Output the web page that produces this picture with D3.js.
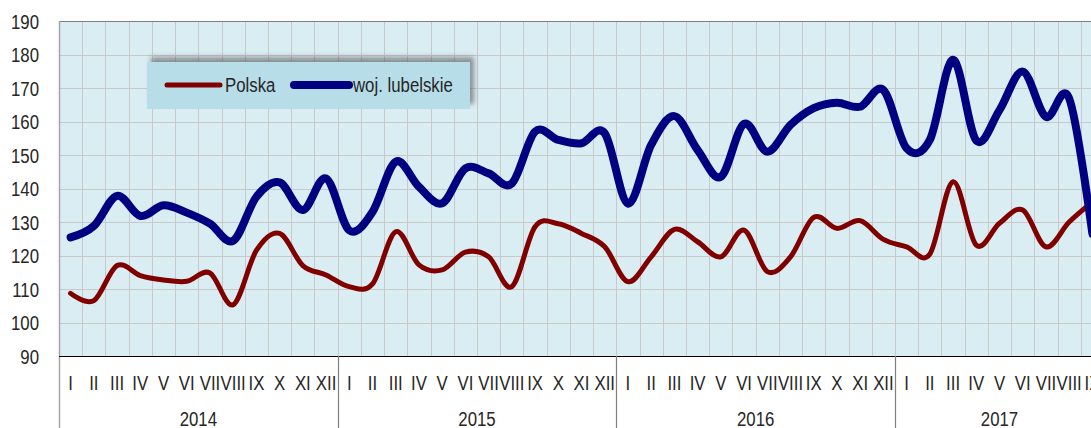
<!DOCTYPE html>
<html>
<head>
<meta charset="utf-8">
<script src="https://cdn.jsdelivr.net/npm/d3@7"></script>
<style>
  html, body { margin: 0; padding: 0; background: #fff; }
  svg { display: block; }
  text { font-family: "Liberation Sans", Arial, sans-serif; fill: #262626; }
</style>
</head>
<body>
<svg id="chart" width="1091" height="428"></svg>
<script>
const years = ["2014", "2015", "2016", "2017"];
const monthLabels = ["I","II","III","IV","V","VI","VII","VIII","IX","X","XI","XII"];
const monthsPerYear = [12, 12, 12, 9];
const yTicks = [90, 100, 110, 120, 130, 140, 150, 160, 170, 180, 190];
const seriesNames = ["Polska", "woj. lubelskie"];

const polska = [
  108.7, 106.5, 117.0, 114.0, 112.7, 112.3, 114.8, 105.3, 121.5, 126.6, 117.0, 114.2,
  110.7, 111.5, 127.1, 117.2, 115.7, 121.0, 119.6, 110.7, 128.6, 129.5, 126.6, 122.6,
  112.2, 119.6, 127.8, 124.1, 119.6, 127.6, 115.2, 119.6, 131.4, 128.1, 130.4, 124.8,
  122.6, 120.4, 142.0, 123.1, 129.6, 133.6, 122.6, 130.0, 136.0
];
const lubelskie = [
  125.4, 128.8, 137.8, 131.8, 135.0, 132.8, 129.5, 124.4, 137.5, 141.8, 133.6, 143.0,
  127.5, 133.0, 148.0, 140.5, 135.6, 146.0, 144.5, 141.5, 157.0, 154.5, 153.5, 156.5,
  135.5, 153.0, 161.6, 151.5, 143.5, 159.3, 151.0, 159.0, 164.0, 165.6, 164.4, 169.4,
  152.0, 154.5, 178.4, 154.3, 163.4, 174.9, 161.4, 166.9, 126.5
];

const cats = [];
years.forEach((yr, yi) => {
  for (let m = 0; m < monthsPerYear[yi]; m++) cats.push({ key: yr + "-" + m, year: yr, month: monthLabels[m] });
});

const NARROW = 0.8;   // horizontal squeeze to imitate a narrow sans
const FS = 21;

const svg = d3.select("#chart");
const L = 59, T = 21, B = 356, R = 1104;

const x = d3.scaleBand().domain(cats.map(c => c.key)).range([L, R]).padding(0);
const y = d3.scaleLinear().domain([90, 190]).range([B, T]);
const cx = k => x(k) + x.bandwidth() / 2;

function narrowText(sel) {
  sel.each(function () {
    const t = d3.select(this);
    const tx = +t.attr("x") || 0;
    t.attr("x", tx / NARROW).attr("transform", `scale(${NARROW},1)`);
  });
}

// plot background
svg.append("rect").attr("x", L).attr("y", T).attr("width", R - L).attr("height", B - T).attr("fill", "#daedf3");

// grid
const grid = svg.append("g").attr("stroke", "#c8c8ca").attr("stroke-width", 1);
grid.selectAll("line.h").data(yTicks.slice(1, -1)).join("line")
  .attr("x1", L).attr("x2", R).attr("y1", d => Math.round(y(d)) + 0.5).attr("y2", d => Math.round(y(d)) + 0.5);
grid.selectAll("line.v").data(cats.slice(1)).join("line")
  .attr("x1", d => Math.round(x(d.key)) + 0.5).attr("x2", d => Math.round(x(d.key)) + 0.5)
  .attr("y1", T).attr("y2", B);

// borders
svg.append("line").attr("x1", L).attr("x2", R).attr("y1", T + 0.5).attr("y2", T + 0.5).attr("stroke", "#7f7f7f");
svg.append("line").attr("x1", L + 0.5).attr("x2", L + 0.5).attr("y1", T).attr("y2", 428).attr("stroke", "#a6a6a6").attr("stroke-width", 1.5);

// y axis labels
const yAxis = svg.append("g").attr("transform", `translate(${L},0)`)
  .call(d3.axisLeft(y).tickValues(yTicks).tickSize(0).tickPadding(20).tickFormat(d3.format("d")));
yAxis.select(".domain").remove();
yAxis.selectAll("text").attr("font-size", FS).attr("dy", "0.35em").attr("font-family", null).call(narrowText);

// lines
const line = d3.line().x((d, i) => cx(cats[i].key)).y(d => y(d)).curve(d3.curveCardinal.tension(0));
svg.append("clipPath").attr("id", "plotclip").append("rect").attr("x", L).attr("y", T).attr("width", R - L).attr("height", B - T);
svg.append("path").datum(polska).attr("d", line).attr("fill", "none").attr("stroke", "#800000").attr("stroke-width", 5).attr("stroke-linecap", "round").attr("stroke-linejoin", "round").attr("clip-path", "url(#plotclip)");
svg.append("path").datum(lubelskie).attr("d", line).attr("fill", "none").attr("stroke", "#000080").attr("stroke-width", 8).attr("stroke-linecap", "round").attr("stroke-linejoin", "round").attr("clip-path", "url(#plotclip)");

// x axis line
svg.append("line").attr("x1", L).attr("x2", R).attr("y1", B + 0.5).attr("y2", B + 0.5).attr("stroke", "#000").attr("stroke-width", 1.2);

// month labels
const xAxis = svg.append("g").attr("transform", `translate(0,${B})`)
  .call(d3.axisBottom(x).tickSize(0).tickPadding(0).tickFormat(k => cats.find(c => c.key === k).month));
xAxis.select(".domain").remove();
xAxis.selectAll("text").attr("font-size", FS).attr("y", 34).attr("dy", 0).attr("font-family", null).call(narrowText);

// year groups
let start = 0;
const groups = years.map((yr, yi) => {
  const g = { year: yr, first: cats[start].key, last: cats[start + monthsPerYear[yi] - 1].key };
  start += monthsPerYear[yi];
  return g;
});
svg.selectAll("line.ysep").data(groups.slice(1)).join("line")
  .attr("x1", d => Math.round(x(d.first)) + 0.5).attr("x2", d => Math.round(x(d.first)) + 0.5)
  .attr("y1", B).attr("y2", 428).attr("stroke", "#7f7f7f").attr("stroke-width", 1.2);
svg.selectAll("text.year").data(groups).join("text")
  .attr("x", d => (x(d.first) + x(d.last) + x.bandwidth()) / 2)
  .attr("y", 426).attr("text-anchor", "middle").attr("font-size", FS).text(d => d.year)
  .call(narrowText);

// legend
const defs = svg.append("defs");
const f = defs.append("filter").attr("id", "shadow").attr("x", "-10%").attr("y", "-40%").attr("width", "120%").attr("height", "180%");
f.append("feDropShadow").attr("dx", 4).attr("dy", -5).attr("stdDeviation", 2.5).attr("flood-color", "#555").attr("flood-opacity", 0.6);
const lg = svg.append("g");
lg.append("rect").attr("x", 147).attr("y", 62).attr("width", 323).attr("height", 47).attr("fill", "#b7dde8").attr("filter", "url(#shadow)");
const items = [
  { name: seriesNames[0], color: "#800000", w: 5, x1: 167, x2: 220, tx: 225 },
  { name: seriesNames[1], color: "#000080", w: 8, x1: 294, x2: 349, tx: 353 }
];
items.forEach(it => {
  lg.append("line").attr("x1", it.x1).attr("x2", it.x2).attr("y1", 85).attr("y2", 85)
    .attr("stroke", it.color).attr("stroke-width", it.w).attr("stroke-linecap", "round");
  lg.append("text").attr("x", it.tx).attr("y", 92).attr("font-size", FS).text(it.name).call(narrowText);
});
</script>
</body>
</html>
